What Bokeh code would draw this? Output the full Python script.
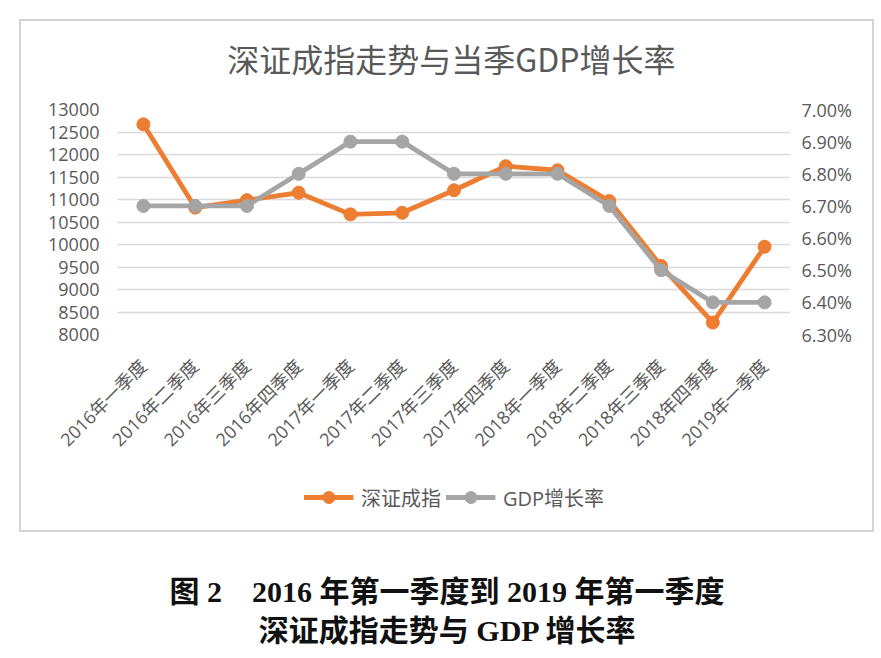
import math
from bokeh.plotting import figure
from bokeh.models import (Range1d, FactorRange, LinearAxis, SingleIntervalTicker, FixedTicker,
                          PrintfTickFormatter, Legend, LegendItem, ColumnDataSource, Spacer)
from bokeh.layouts import column, row
from bokeh.core.properties import value
from bokeh.embed import file_html
from bokeh.resources import INLINE

# ---------------- data ----------------
categories = ["2016年一季度", "2016年二季度", "2016年三季度", "2016年四季度",
              "2017年一季度", "2017年二季度", "2017年三季度", "2017年四季度",
              "2018年一季度", "2018年二季度", "2018年三季度", "2018年四季度",
              "2019年一季度"]
szci = [12670, 10820, 10985, 11150, 10670, 10705, 11205, 11740, 11650, 10965, 9525, 8265, 9950]
gdp = [6.7, 6.7, 6.7, 6.8, 6.9, 6.9, 6.8, 6.8, 6.8, 6.7, 6.5, 6.4, 6.4]
gdp_ticks = [6.3, 6.4, 6.5, 6.6, 6.7, 6.8, 6.9, 7.0]
title_text = ["深证成指走势与当季GDP增长率"]
series_names = ["深证成指", "GDP增长率"]
caption_lines = ["图 2　2016 年第一季度到 2019 年第一季度", "深证成指走势与 GDP 增长率"]

ORANGE = "#ED7D31"
GRAY = "#A5A5A5"
TXT = "#595959"
GRID = "#D9D9D9"
BOX = "#D4D4D4"
LABEL_FONT = "'Open Sans', 'Noto Sans CJK SC'"


def blank(w, h, fill="white"):
    f = figure(width=w, height=h, x_range=Range1d(0, 1), y_range=Range1d(0, 1),
               output_backend="svg", toolbar_location=None, min_border=0)
    f.axis.visible = False
    f.grid.grid_line_color = None
    f.outline_line_color = None
    f.background_fill_color = fill
    f.border_fill_color = fill
    return f


INNER_W = 851

# ---------------- title strip ----------------
tfig = blank(INNER_W, 76)
tfig.text(x=[0.496], y=[0.526], text=title_text, text_align="center", text_baseline="middle",
          text_font=value("Noto Sans CJK SC"), text_font_size="32px", text_color=TXT)

# ---------------- main chart ----------------
src = ColumnDataSource(dict(cat=categories, szci=szci, gdp=gdp))

p = figure(width=INNER_W, height=382, x_range=FactorRange(*categories),
           y_range=Range1d(8000, 13000), output_backend="svg", toolbar_location=None,
           min_border_left=96, min_border_right=82, min_border_top=12, min_border_bottom=145)
p.extra_y_ranges = {"gdp": Range1d(6.3, 7.0)}
p.outline_line_color = None
p.background_fill_color = "white"
p.border_fill_color = "white"

yax = p.yaxis[0]
yax.ticker = SingleIntervalTicker(interval=500)
yax.axis_line_color = None
yax.major_tick_line_color = None
yax.minor_tick_line_color = None
yax.major_label_text_font = LABEL_FONT
yax.major_label_text_font_size = "18px"
yax.major_label_text_color = TXT
yax.major_label_standoff = 12

rax = LinearAxis(y_range_name="gdp", ticker=FixedTicker(ticks=gdp_ticks),
                 formatter=PrintfTickFormatter(format="%.2f%%"))
rax.axis_line_color = None
rax.major_tick_line_color = None
rax.minor_tick_line_color = None
rax.major_label_text_font = LABEL_FONT
rax.major_label_text_font_size = "18px"
rax.major_label_text_color = TXT
rax.major_label_standoff = 5
p.add_layout(rax, "right")

xax = p.xaxis[0]
xax.axis_line_color = None
xax.major_tick_line_color = None
xax.minor_tick_line_color = None
xax.major_label_orientation = math.pi / 4
xax.major_label_text_font = LABEL_FONT
xax.major_label_text_font_size = "18px"
xax.major_label_text_color = TXT
xax.major_label_standoff = 22

p.xgrid.grid_line_color = None
p.ygrid.grid_line_color = GRID
p.ygrid.grid_line_width = 1.5

p.line("cat", "szci", source=src, color=ORANGE, line_width=4.8)
p.scatter("cat", "szci", source=src, size=13, color=ORANGE)
p.line("cat", "gdp", source=src, color=GRAY, line_width=4.8, y_range_name="gdp")
p.scatter("cat", "gdp", source=src, size=13, color=GRAY, y_range_name="gdp")

# ---------------- legend strip ----------------
leg = blank(INNER_W, 36)
dummy = ColumnDataSource(dict(x=[float("nan")], y=[float("nan")]))
k1 = leg.line("x", "y", source=dummy, color=ORANGE, line_width=4.8)
m1 = leg.scatter("x", "y", source=dummy, size=13, color=ORANGE)
k2 = leg.line("x", "y", source=dummy, color=GRAY, line_width=4.8)
m2 = leg.scatter("x", "y", source=dummy, size=13, color=GRAY)
legend = Legend(items=[LegendItem(label=series_names[0], renderers=[k1, m1]),
                       LegendItem(label=series_names[1], renderers=[k2, m2])],
                orientation="horizontal", location="center")
legend.border_line_color = None
legend.background_fill_alpha = 0
legend.label_text_font = LABEL_FONT
legend.label_text_font_size = "20px"
legend.label_text_color = TXT
legend.glyph_width = 50
legend.glyph_height = 30
legend.spacing = 4
legend.label_standoff = 8
legend.padding = 0
legend.margin = 0
leg.add_layout(legend, "center")

inner = column(tfig, p, leg, blank(INNER_W, 15), spacing=0)
inner.styles = {"background-color": "white"}
boxed = column(Spacer(width=855, height=2),
               row(Spacer(width=2, height=509), inner, Spacer(width=2, height=509), spacing=0),
               Spacer(width=855, height=2), spacing=0)
boxed.styles = {"background-color": BOX}

# ---------------- caption ----------------
cap = blank(874, 126)
cap_src = ColumnDataSource(dict(x=[0.511, 0.512], y=[0.532, 0.222], t=caption_lines))
cap.text("x", "y", text="t", source=cap_src, text_align="center", text_baseline="middle",
         text_font=value("'Liberation Serif', 'Noto Sans CJK SC'"), text_font_style="bold",
         text_font_size="30px", text_color="#111111")

layout = column(Spacer(height=19), row(Spacer(width=19), boxed, spacing=0), cap, spacing=0)

open("out.html", "w").write(file_html(layout, INLINE))
